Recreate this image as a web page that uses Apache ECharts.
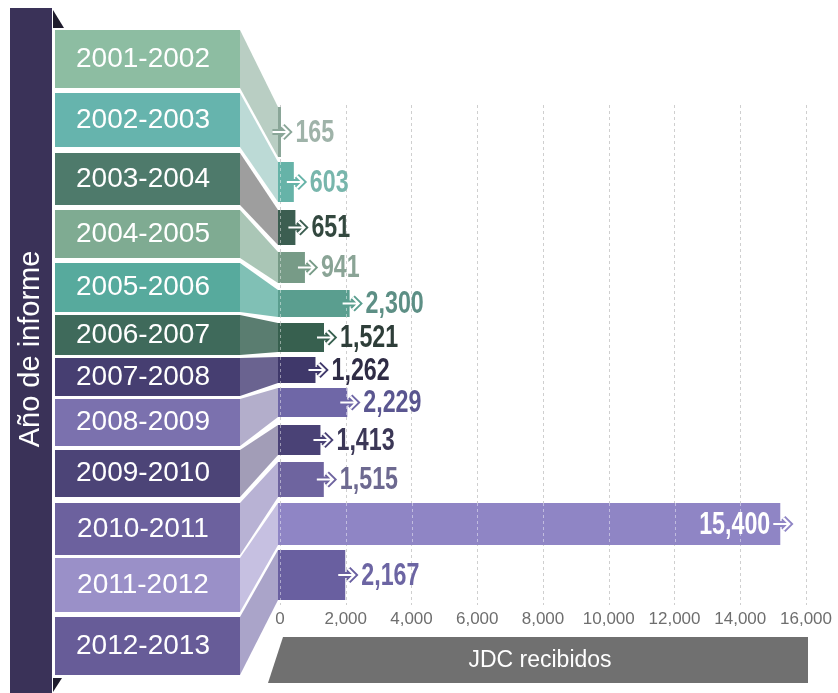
<!DOCTYPE html>
<html>
<head>
<meta charset="utf-8">
<script src="https://cdn.jsdelivr.net/npm/echarts@6/dist/echarts.min.js"></script>
<style>
  html, body { margin: 0; padding: 0; background: #ffffff; }
  #chart { width: 838px; height: 693px; }
</style>
</head>
<body>
<div id="chart"></div>
<script>
// ---------------- DATA ----------------
const years = ['2001-2002', '2002-2003', '2003-2004', '2004-2005', '2005-2006', '2006-2007',
               '2007-2008', '2008-2009', '2009-2010', '2010-2011', '2011-2012', '2012-2013'];
const received = [165, 603, 651, 941, 2300, 1521, 1262, 2229, 1413, 1515, 15400, 2167];
const axisMin = 0, axisMax = 16000, axisStep = 2000;
const axisTitle = 'JDC recibidos';
const sideTitle = 'Año de informe';

// ---------------- LAYOUT (pixel bands, not data) ----------------
const boxBand = [[30,88],[93,147],[153,205],[210,258],[263,312],[315,355],
                 [358,396],[399,446],[450,497],[503,555],[558,612],[617,675]];
const barBand = [[107,157],[162,202],[210,245],[252,283],[290,317],[323,352],
                 [357,383],[388,417],[425,455],[462,497],[503,545],[550,600]];
const BOX_L = 55, BOX_R = 240;

// ---------------- STYLE ----------------
const boxColors  = ['#8dbda2','#66b4ad','#4e7a6b','#7fab92','#57aa9d','#3f6a5b',
                    '#463e71','#7b71ae','#4c4477','#6c619e','#9a90c8','#675c98'];
const sideColors = ['#b9cec3','#bcdad6','#9e9e9e','#aac6b6','#80c0b5','#5a7d70',
                    '#6a6390','#b3aecb','#a29db7','#b8b2d4','#c6c0e1','#aaa4c9'];
const barColors  = ['#8aa698','#66b3a8','#3c5e51','#779b87','#5a9e8f','#37604f',
                    '#3f386a','#6f67a7','#4a4276','#6e649f','#8f85c5','#695fa0'];
const labelColors= ['#9fb3a9','#78b6ac','#33483f','#8aa496','#5d8f85','#2e3e39',
                    '#2f2c45','#5a5690','#3b3756','#6d6990','#ffffff','#6c65a3'];

const chart = echarts.init(document.getElementById('chart'), null, { renderer: 'canvas' });

function renderItem(params, api) {
  const i = api.value(1);
  const v = api.value(0);
  const x0 = api.coord([axisMin, 0])[0] - 2;
  const xe = api.coord([v, 0])[0];
  const Y = t => api.coord([0, t])[1];
  const bT = Y(boxBand[i][0]), bB = Y(boxBand[i][1]);
  const rT = Y(barBand[i][0]), rB = Y(barBand[i][1]);
  const mid = (rT + rB) / 2;
  const inside = xe > api.coord([axisMax * 0.85, 0])[0];
  const arrowPath = 'M' + (xe - 13) + ' ' + mid + ' L' + (xe + 3) + ' ' + mid +
                    ' M' + (xe - 3) + ' ' + (mid - 6) + ' L' + (xe + 3) + ' ' + mid +
                    ' L' + (xe - 3) + ' ' + (mid + 6);
  const label = v.toLocaleString('en-US');
  const children = [
    { type: 'rect', shape: { x: BOX_L, y: bT, width: BOX_R - BOX_L, height: bB - bT },
      style: { fill: boxColors[i] } },
    { type: 'text', style: { text: years[i], x: 143, y: (bT + bB) / 2, align: 'center',
      verticalAlign: 'middle', fill: '#ffffff', font: '28px "Liberation Sans", Arial, sans-serif' } },
    { type: 'polygon', shape: { points: [[BOX_R, bT], [x0, rT], [x0, rB], [BOX_R, bB]] },
      style: { fill: sideColors[i] } },
    { type: 'rect', shape: { x: x0, y: rT, width: Math.max(xe - 6 - x0, 3), height: rB - rT },
      style: { fill: barColors[i] } }
  ];
  // light dashed gridlines showing through the bar
  for (let t = axisMin; t < v; t += axisStep) {
    const gx = Math.round(api.coord([t, 0])[0]) + 0.5;
    if (gx > xe - 6) break;
    children.push({ type: 'line', shape: { x1: gx, y1: rT, x2: gx, y2: rB },
      style: { stroke: 'rgba(255,255,255,0.45)', lineWidth: 1, lineDash: [3, 3] } });
  }
  children.push(
    { type: 'path', shape: { pathData: arrowPath },
      style: { fill: null, stroke: barColors[i], lineWidth: 6, lineJoin: 'miter' } },
    { type: 'path', shape: { pathData: arrowPath },
      style: { fill: null, stroke: '#ffffff', lineWidth: 2.2, lineJoin: 'miter' } },
    { type: 'group', x: inside ? xe - 16 : xe + 10, y: mid + 1, scaleX: 0.75, children: [
      { type: 'text', style: { text: label, x: 0, y: 0, align: inside ? 'right' : 'left',
        verticalAlign: 'middle', fill: labelColors[i],
        font: 'bold 31px "Liberation Sans", Arial, sans-serif' } }
    ] }
  );
  return { type: 'group', children };
}

const option = {
  backgroundColor: '#ffffff',
  animation: false,
  grid: { left: 280, right: 32, top: 105, bottom: 88, containLabel: false },
  xAxis: {
    type: 'value', min: axisMin, max: axisMax, interval: axisStep,
    axisLine: { show: false }, axisTick: { show: false },
    splitLine: { show: true, lineStyle: { type: [3, 3], color: '#cfcfcf', width: 1 } },
    axisLabel: { color: '#6e6e6e', fontSize: 17, fontFamily: '"Liberation Sans", Arial, sans-serif',
      margin: 6, formatter: v => v.toLocaleString('en-US') }
  },
  yAxis: { type: 'value', min: 105, max: 605, inverse: true, show: false },
  series: [{
    type: 'custom', clip: false, z: 2,
    renderItem: renderItem,
    encode: { x: 0, y: -1 },
    data: received.map((v, i) => [v, i])
  }],
  graphic: [
    { type: 'rect', shape: { x: 10, y: 8, width: 42, height: 685 }, style: { fill: '#3a3258' } },
    { type: 'polygon', shape: { points: [[53, 10], [53, 28], [64, 28]] }, style: { fill: '#1e1b2c' } },
    { type: 'polygon', shape: { points: [[53, 678], [62, 678], [53, 692]] }, style: { fill: '#1e1b2c' } },
    { type: 'text', x: 31, y: 349, rotation: Math.PI / 2,
      style: { text: sideTitle, align: 'center', verticalAlign: 'middle', fill: '#ffffff',
        font: '29px "Liberation Sans", Arial, sans-serif' } },
    { type: 'polygon', shape: { points: [[283, 637], [808, 637], [808, 683], [268, 683]] },
      style: { fill: '#707070' } },
    { type: 'text', x: 540, y: 661,
      style: { text: axisTitle, align: 'center', verticalAlign: 'middle', fill: '#ffffff',
        font: '23px "Liberation Sans", Arial, sans-serif' } }
  ]
};
chart.setOption(option);
</script>
</body>
</html>
